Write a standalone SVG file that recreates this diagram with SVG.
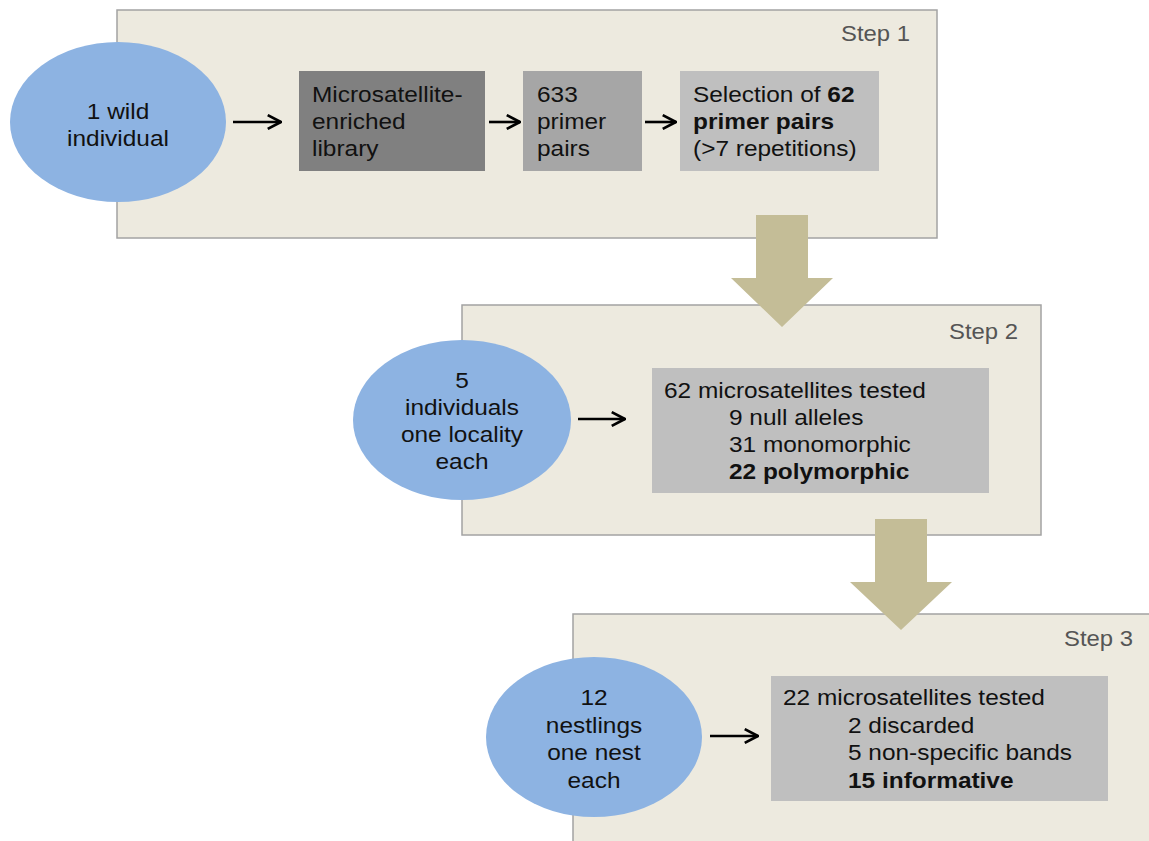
<svg xmlns="http://www.w3.org/2000/svg" width="1149" height="841" viewBox="0 0 1149 841">
<style>
.step{fill:#EDEADF;stroke:#A3A3A3;stroke-width:1.5}
.ell{fill:#8DB3E2}
.t{font-family:"Liberation Sans",Arial,sans-serif;font-size:22px;fill:#111}
.c{text-anchor:middle}
.b{font-weight:bold}
.lbl{font-family:"Liberation Sans",Arial,sans-serif;font-size:21.5px;fill:#555;text-anchor:end}
.big{fill:#C4BD97}
.arr{stroke:#000;stroke-width:2.6;fill:none}
</style>
<defs>
<marker id="ah" viewBox="0 0 10 10" refX="9.3" refY="5" markerWidth="6" markerHeight="6" orient="auto" markerUnits="strokeWidth">
<path d="M0.8,0.6 L9.2,5 L0.8,9.4" fill="none" stroke="#000" stroke-width="1.7" stroke-linejoin="miter"/>
</marker>
</defs>

<g id="step1">
<rect class="step" x="117" y="10" width="820" height="228"/>
<text class="lbl" transform="translate(910,41) scale(1.11,1)">Step 1</text>
</g>
<g id="step2">
<rect class="step" x="462" y="305" width="579" height="230"/>
<text class="lbl" transform="translate(1018,339) scale(1.11,1)">Step 2</text>
</g>
<g id="step3">
<rect class="step" x="573" y="614" width="600" height="260"/>
<text class="lbl" transform="translate(1133,646) scale(1.11,1)">Step 3</text>
</g>

<g id="bigarrows">
<polygon class="big" points="756,215 808,215 808,278 833,278 782,327 731,278 756,278"/>
<polygon class="big" points="875,519 927,519 927,582 952,582 901,630 850,582 875,582"/>
</g>

<g id="wild">
<ellipse class="ell" cx="118" cy="122" rx="108" ry="80"/>
<text class="t c" transform="translate(118,119) scale(1.11,1)">1 wild</text>
<text class="t c" transform="translate(118,146) scale(1.11,1)">individual</text>
</g>
<g id="library">
<rect x="299" y="71" width="186" height="100" fill="#808080"/>
<text class="t" transform="translate(312,102) scale(1.11,1)">Microsatellite-</text>
<text class="t" transform="translate(312,129) scale(1.11,1)">enriched</text>
<text class="t" transform="translate(312,156) scale(1.11,1)">library</text>
</g>
<g id="primers633">
<rect x="523" y="71" width="119" height="100" fill="#A6A6A6"/>
<text class="t" transform="translate(537,102) scale(1.11,1)">633</text>
<text class="t" transform="translate(537,129) scale(1.11,1)">primer</text>
<text class="t" transform="translate(537,156) scale(1.11,1)">pairs</text>
</g>
<g id="selection">
<rect x="680" y="71" width="199" height="100" fill="#BFBFBF"/>
<text class="t" transform="translate(693,102) scale(1.11,1)">Selection of <tspan class="b">62</tspan></text>
<text class="t b" transform="translate(693,129) scale(1.11,1)">primer pairs</text>
<text class="t" transform="translate(693,156) scale(1.11,1)">(&gt;7 repetitions)</text>
</g>

<g id="individuals5">
<ellipse class="ell" cx="462" cy="420" rx="109" ry="80"/>
<text class="t c" transform="translate(462,388) scale(1.11,1)">5</text>
<text class="t c" transform="translate(462,415) scale(1.11,1)">individuals</text>
<text class="t c" transform="translate(462,442) scale(1.11,1)">one locality</text>
<text class="t c" transform="translate(462,469) scale(1.11,1)">each</text>
</g>
<g id="tested62">
<rect x="652" y="368" width="337" height="125" fill="#BFBFBF"/>
<text class="t" transform="translate(664,398) scale(1.11,1)">62 microsatellites tested</text>
<text class="t" transform="translate(729,425) scale(1.11,1)">9 null alleles</text>
<text class="t" transform="translate(729,452) scale(1.11,1)">31 monomorphic</text>
<text class="t b" transform="translate(729,479) scale(1.11,1)">22 polymorphic</text>
</g>

<g id="nestlings12">
<ellipse class="ell" cx="594" cy="737" rx="108" ry="80"/>
<text class="t c" transform="translate(594,705) scale(1.11,1)">12</text>
<text class="t c" transform="translate(594,733) scale(1.11,1)">nestlings</text>
<text class="t c" transform="translate(594,760) scale(1.11,1)">one nest</text>
<text class="t c" transform="translate(594,788) scale(1.11,1)">each</text>
</g>
<g id="tested22">
<rect x="771" y="676" width="337" height="125" fill="#BFBFBF"/>
<text class="t" transform="translate(783,705) scale(1.11,1)">22 microsatellites tested</text>
<text class="t" transform="translate(848,733) scale(1.11,1)">2 discarded</text>
<text class="t" transform="translate(848,760) scale(1.11,1)">5 non-specific bands</text>
<text class="t b" transform="translate(848,788) scale(1.11,1)">15 informative</text>
</g>

<g id="connectors">
<line class="arr" x1="233" y1="122" x2="281" y2="122" marker-end="url(#ah)"/>
<line class="arr" x1="489" y1="122" x2="520" y2="122" marker-end="url(#ah)"/>
<line class="arr" x1="645" y1="122" x2="676" y2="122" marker-end="url(#ah)"/>
<line class="arr" x1="578" y1="419" x2="625" y2="419" marker-end="url(#ah)"/>
<line class="arr" x1="710" y1="736" x2="758" y2="736" marker-end="url(#ah)"/>
</g>
</svg>
